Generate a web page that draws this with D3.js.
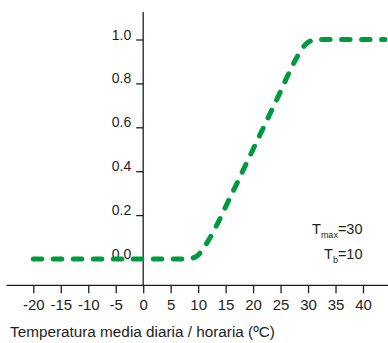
<!DOCTYPE html>
<html>
<head>
<meta charset="utf-8">
<script src="https://cdn.jsdelivr.net/npm/d3@7"></script>
<style>
  body { margin: 0; background: #fff; }
  svg { display: block; font-family: "Liberation Sans", Arial, Helvetica, sans-serif; }
</style>
</head>
<body>
<svg id="chart"></svg>
<script>
// temperatura (ºC) y respuesta relativa
const temps = [-20, 8, 9, 10, 11, 12, 16, 20, 24, 28, 29, 30, 31, 32, 44];
const resp  = [0, 0, 0.004, 0.018, 0.05, 0.09, 0.29, 0.5, 0.71, 0.92, 0.962, 0.987, 0.998, 1, 1];
const xTicks = [-20, -15, -10, -5, 0, 5, 10, 15, 20, 25, 30, 35, 40];
const yTicks = [0, 0.2, 0.4, 0.6, 0.8, 1.0];
const xLabel = "Temperatura media diaria / horaria (ºC)";
const notes = [["T", "max", "=30"], ["T", "b", "=10"]];

const width = 388, height = 343;
const ink = "#1e1e1e";

const svg = d3.select("#chart").attr("width", width).attr("height", height);

const x = d3.scaleLinear().domain([-20, 40]).range([33.3, 363]);
const y = d3.scaleLinear().domain([0, 1]).range([259, 39.5]);

// eje x
const xAxis = svg.append("g")
    .attr("transform", "translate(0,285.3)")
    .call(d3.axisBottom(x).tickValues(xTicks).tickSize(8).tickPadding(6.5).tickFormat(d => String(d)));
xAxis.select(".domain").remove();
xAxis.append("line")
    .attr("x1", 6.5).attr("x2", width)
    .attr("stroke", ink).attr("stroke-width", 1.3);
xAxis.selectAll(".tick line").attr("stroke", ink).attr("stroke-width", 1.3);
xAxis.selectAll(".tick text").attr("fill", ink).attr("font-size", 15).attr("font-family", null);

// eje y
const yAxis = svg.append("g")
    .attr("transform", `translate(${x(0)},0)`)
    .call(d3.axisLeft(y).tickValues(yTicks).tickSize(7).tickPadding(5).tickFormat(d3.format(".1f")));
yAxis.select(".domain").remove();
yAxis.append("line")
    .attr("y1", 12).attr("y2", 286)
    .attr("stroke", ink).attr("stroke-width", 1.3);
yAxis.selectAll(".tick line").attr("stroke", ink).attr("stroke-width", 1.3);
yAxis.selectAll(".tick text").attr("fill", ink).attr("font-size", 14).attr("font-family", null)
    .attr("dy", "-0.5");

// título del eje x
svg.append("text")
    .attr("x", 10).attr("y", 337)
    .attr("fill", ink).attr("font-size", 15.3)
    .text(xLabel);

// parámetros
notes.forEach((n, i) => {
  const t = svg.append("text")
      .attr("x", 362.5).attr("y", 234 + i * 25)
      .attr("text-anchor", "end")
      .attr("fill", ink).attr("font-size", 14.5);
  t.append("tspan").text(n[0]);
  t.append("tspan").attr("font-size", 9).attr("dy", 3.5).text(n[1]);
  t.append("tspan").attr("dy", -3.5).text(n[2]);
});

// curva
const pts = temps.map((t, i) => [t, resp[i]]);
svg.append("path")
    .datum(pts)
    .attr("fill", "none")
    .attr("stroke", "#009a3e")
    .attr("stroke-width", 5)
    .attr("stroke-linecap", "round")
    .attr("stroke-dasharray", "8.5,11.5")
    .attr("d", d3.line().x(d => x(d[0])).y(d => y(d[1])).curve(d3.curveMonotoneX));
</script>
</body>
</html>
